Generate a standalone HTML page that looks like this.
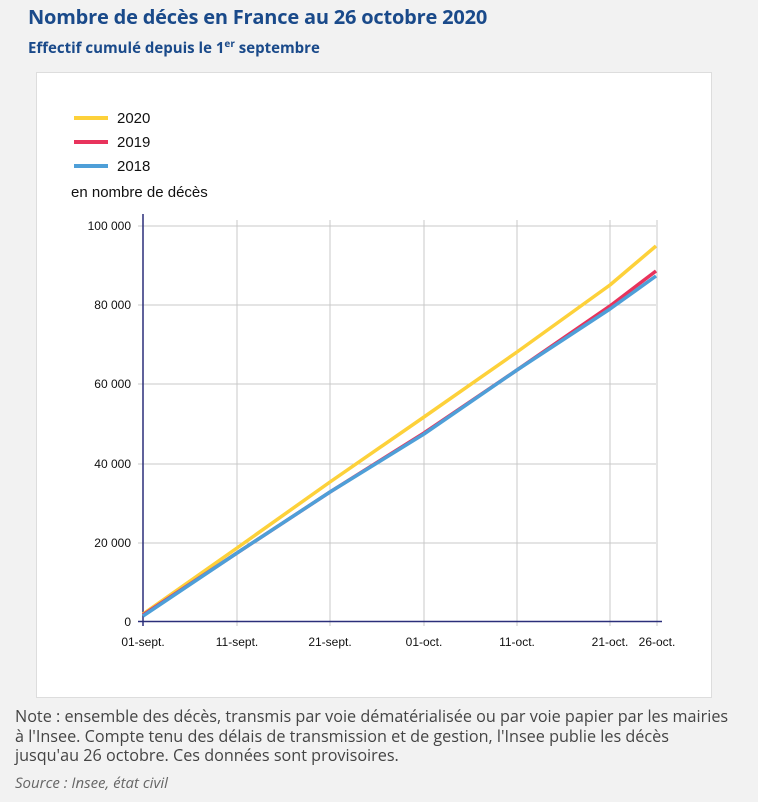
<!DOCTYPE html>
<html><head><meta charset="utf-8"><style>
body{margin:0;background:#f2f2f2;width:758px;height:802px;overflow:hidden;font-family:"Open Sans","Liberation Sans","DejaVu Sans",sans-serif;}
.t{position:absolute;left:28px;top:3px;font-size:20px;font-weight:bold;color:#1a4a8a;white-space:nowrap;letter-spacing:-0.2px}
.s{position:absolute;left:28px;top:36px;font-size:15px;font-weight:bold;color:#1a4a8a;white-space:nowrap}
.card{position:absolute;left:36px;top:72px;width:676px;height:626px;background:#fff;border:1px solid #ddd;box-sizing:border-box}
.note{position:absolute;left:15px;top:707px;width:740px;font-size:16.2px;line-height:19.5px;color:#444;white-space:nowrap}
.src{position:absolute;left:15px;top:773px;font-size:15px;font-style:italic;color:#666}
</style></head><body>
<div class="t">Nombre de décès en France au 26 octobre 2020</div>
<div class="s">Effectif cumulé depuis le 1<sup style="font-size:10px">er</sup> septembre</div>
<div class="card"></div>
<svg style="position:absolute;left:0;top:0" width="758" height="802" font-family="Liberation Sans, sans-serif">
<g stroke-width="4">
<line x1="74" y1="118" x2="108" y2="118" stroke="#fdd13a"/>
<line x1="74" y1="142" x2="108" y2="142" stroke="#e8335c"/>
<line x1="74" y1="166" x2="108" y2="166" stroke="#4e9fd8"/>
</g>
<g font-size="15" fill="#111">
<text x="117" y="123">2020</text><text x="117" y="147">2019</text><text x="117" y="171">2018</text>
<text x="71" y="197">en nombre de décès</text>
</g>
<g stroke="#c8c8c8" stroke-width="1">
<line x1="138" y1="226" x2="656" y2="226"/><line x1="138" y1="305" x2="656" y2="305"/>
<line x1="138" y1="384" x2="656" y2="384"/><line x1="138" y1="464" x2="656" y2="464"/>
<line x1="138" y1="543" x2="656" y2="543"/>
<line x1="237" y1="220" x2="237" y2="626"/><line x1="330" y1="220" x2="330" y2="626"/>
<line x1="424" y1="220" x2="424" y2="626"/><line x1="517" y1="220" x2="517" y2="626"/>
<line x1="610" y1="220" x2="610" y2="626"/><line x1="657" y1="220" x2="657" y2="626"/>
</g>
<line x1="143" y1="214" x2="143" y2="626" stroke="#2b2f7a" stroke-width="1.5"/>
<line x1="138" y1="621.5" x2="662" y2="621.5" stroke="#2b2f7a" stroke-width="1.5"/>
<g font-size="12" fill="#111" text-anchor="end">
<text x="131" y="230">100 000</text><text x="131" y="309">80 000</text><text x="131" y="388">60 000</text>
<text x="131" y="468">40 000</text><text x="131" y="547">20 000</text><text x="131" y="626">0</text>
</g>
<g font-size="12" fill="#111" text-anchor="middle">
<text x="143" y="646">01-sept.</text><text x="237" y="646">11-sept.</text><text x="330" y="646">21-sept.</text>
<text x="424" y="646">01-oct.</text><text x="517" y="646">11-oct.</text><text x="610" y="646">21-oct.</text><text x="657" y="646">26-oct.</text>
</g>
<g fill="none" stroke-width="3.5" stroke-linejoin="round">
<polyline stroke="#fdd13a" points="143,614 237,548 330,482 424,417 517,352 610,285 656,246"/>
<polyline stroke="#e8335c" points="143,615 237,553 330,492 424,433 517,370 610,306 656,271"/>
<polyline stroke="#4e9fd8" points="143,616 237,553 330,492 424,434 517,370 610,309 656,276"/>
</g>
</svg>
<div class="note">Note : ensemble des décès, transmis par voie dématérialisée ou par voie papier par les mairies<br>à l'Insee. Compte tenu des délais de transmission et de gestion, l'Insee publie les décès<br>jusqu'au 26 octobre. Ces données sont provisoires.</div>
<div class="src">Source : Insee, état civil</div>
</body></html>
